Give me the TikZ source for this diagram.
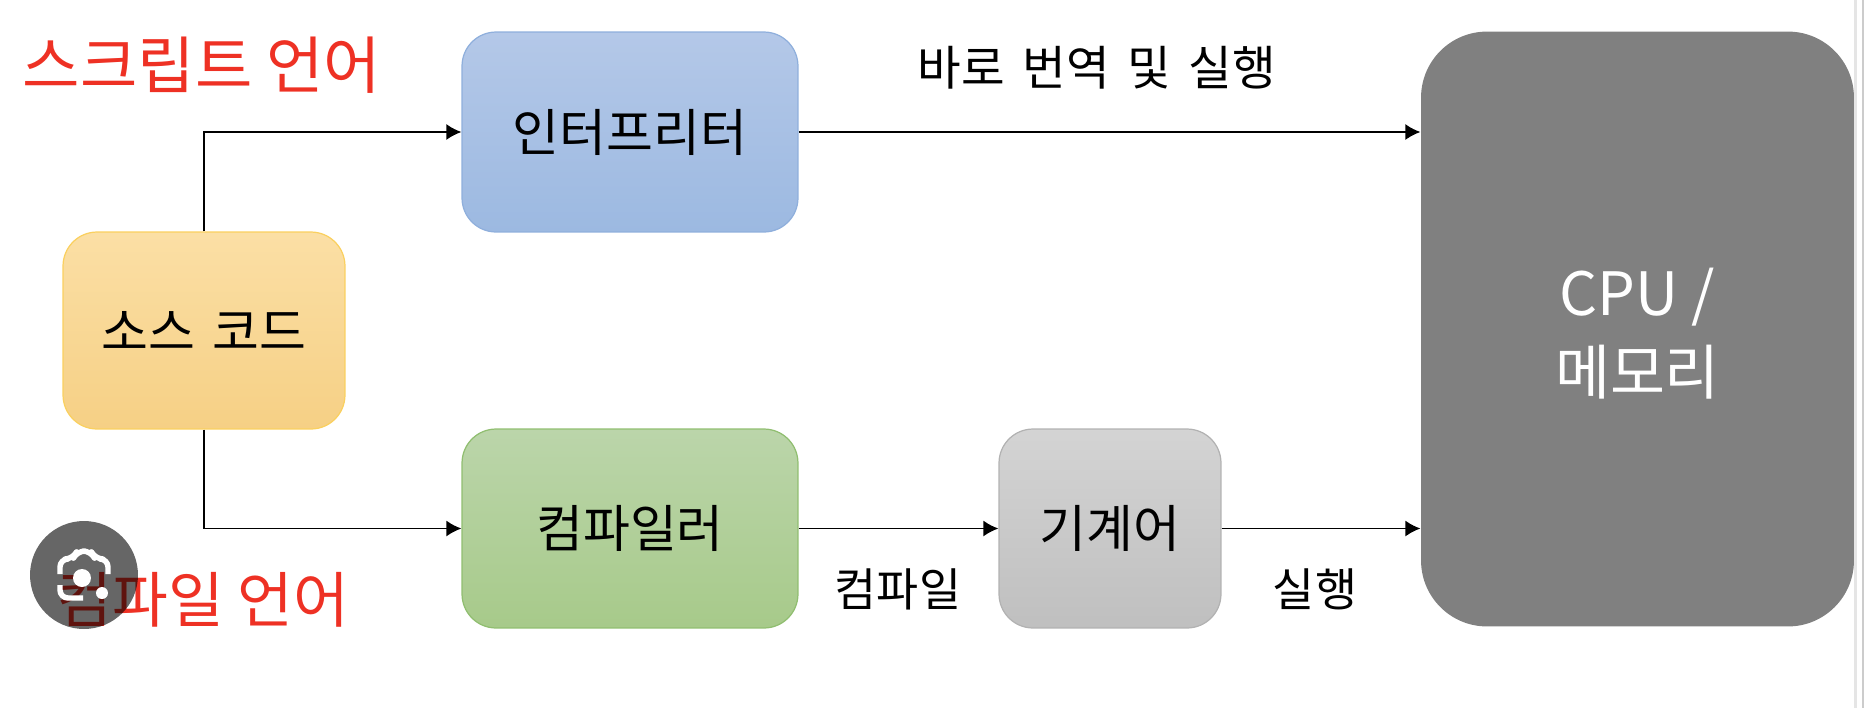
\documentclass[tikz,border=0pt]{standalone}
\usepackage{fontspec}
\setmainfont{Noto Sans CJK KR}
\usetikzlibrary{arrows.meta}
\definecolor{redlabel}{HTML}{EE3124}
\definecolor{bluetop}{HTML}{B4C8E8}
\definecolor{bluebot}{HTML}{9CB9E1}
\definecolor{blueedge}{HTML}{8FAFDC}
\definecolor{orangetop}{HTML}{FBDFA5}
\definecolor{orangebot}{HTML}{F6D085}
\definecolor{orangeedge}{HTML}{FAD05F}
\definecolor{greentop}{HTML}{BBD5AA}
\definecolor{greenbot}{HTML}{A7CA8A}
\definecolor{greenedge}{HTML}{90BE70}

\begin{document}
\begin{tikzpicture}[x=0.02cm,y=-0.02cm,
    box/.style={rounded corners=0.68cm,inner sep=0pt,line width=0.7pt,
        font=\fontsize{29}{34}\selectfont,text=black},
    lang/.style={text=redlabel,font=\fontsize{34.5}{40}\selectfont,inner sep=0pt},
    note/.style={font=\fontsize{26}{30}\selectfont,text=black,inner sep=0pt},
    wire/.style={line width=1pt,black,-{Latex[length=0.3cm,width=0.32cm]}}]
    \useasboundingbox (0,0) rectangle (1864,708);

    % Draw the boxes
    \node[box,draw=blueedge,top color=bluetop,bottom color=bluebot,
        minimum width=6.72cm,minimum height=4cm] (interp) at (630,132) {인터프리터};
    \node[box,draw=orangeedge,top color=orangetop,bottom color=orangebot,
        minimum width=5.64cm,minimum height=3.94cm] (source) at (204,330.5) {\spaceskip=9.5pt 소스 코드};
    \node[box,draw=greenedge,top color=greentop,bottom color=greenbot,
        minimum width=6.72cm,minimum height=3.98cm] (compiler) at (630,528.5) {컴파일러};
    \node[box,draw=black!30,top color=black!17,bottom color=black!25,
        minimum width=4.44cm,minimum height=3.98cm] (machine) at (1110,528.5) {기계어};
    \node[box,fill=black!50,text=white,rounded corners=1.32cm,align=center,
        font=\fontsize{34}{45}\selectfont,
        minimum width=8.66cm,minimum height=11.9cm] (cpu) at (1637.5,329) {\rule{0pt}{32pt}CPU /\\메모리};

    % Draw the connectors
    \draw[wire] (source.north) |- (interp.west);
    \draw[wire] (source.south) |- (compiler.west);
    \draw[wire] (interp.east) -- (interp.east -| cpu.west);
    \draw[wire] (compiler.east) -- (machine.west);
    \draw[wire] (machine.east) -- (machine.east -| cpu.west);

    % Labels
    \node[lang,font=\fontsize{35.5}{40}\selectfont] (script) at (202,65) {스크립트 언어};
    \node[lang] (compiled) at (203,600) {컴파일 언어};
    \node[note,font=\fontsize{27}{30}\selectfont] (direct) at (1097,68) {\spaceskip=10pt 바로 번역 및 실행};
    \node[note] (compile) at (898,589) {컴파일};
    \node[note] (run) at (1315,589) {실행};

    % Draw the window edge
    \draw[black!10,line width=1.2pt] (1855.5,0) -- (1855.5,708);
    \draw[black!20,line width=1.2pt] (1863,0) -- (1863,708);

    % Draw the camera badge
    \fill[black,opacity=0.6] (84,575) circle (1.08cm);
    \draw[white,line width=3.1pt,line join=round,rounded corners=0.16cm]
        (60,574) -- (60,559) -- (73,559) -- (77,551) -- (91,551) -- (95,559) -- (108,559) -- (108,574);
    \draw[white,line width=3.1pt,rounded corners=0.16cm]
        (60,585) -- (60,598) -- (83,598);
    \foreach \spotx/\spoty/\rad in {82/578/0.18,102/593/0.12}
        \fill[white] (\spotx,\spoty) circle (\rad cm);
\end{tikzpicture}
\end{document}
